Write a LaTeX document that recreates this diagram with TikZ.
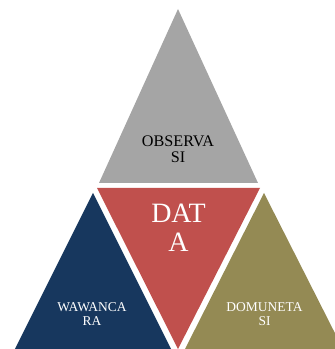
\documentclass[tikz,border=0pt]{standalone}
\usepackage{fontspec}
\setmainfont{Liberation Serif}
\definecolor{obsgray}{HTML}{A5A5A5}
\definecolor{datared}{HTML}{C0504D}
\definecolor{wawnavy}{HTML}{17375E}
\definecolor{dokolive}{HTML}{948A54}
\tikzset{
  smalllabel/.style={align=center, text=white, font=\fontsize{11.5}{11.3}\selectfont},
}
\begin{document}
\begin{tikzpicture}
                        \useasboundingbox (0,0) rectangle (10.050000,10.470000);
                        \clip (0,0) rectangle (10.050000,10.470000);

                        % Drawing triangle OBSERVASI (top)
                        \fill [obsgray] (5.340000,10.200000) -- (2.970000,4.980000) -- (7.740000,4.980000) -- cycle;%
                        \node (observasi) at (5.340000,6.000000) [align=center, font=\fontsize{13.8}{13.9}\selectfont] {OBSERVA\\SI};%

                        % Drawing triangle DATA (middle, upside down)
                        \fill [datared] (2.910000,4.830000) -- (7.800000,4.830000) -- (5.340000,0.000000) -- cycle;%
                        \node (data) at (5.355000,3.630000) [align=center, text=white, font=\fontsize{23.9}{24.7}\selectfont] {DAT\\A};%

                        % Drawing triangle WAWANCARA (left)
                        \fill [wawnavy] (2.790000,4.680000) -- (0.450000,0.000000) -- (5.130000,0.000000) -- cycle;%
                        \node (wawancara) at (2.760000,1.050000) [smalllabel] {WAWANCA\\RA};%

                        % Drawing triangle DOMUNETASI (right)
                        \fill [dokolive] (7.920000,4.680000) -- (5.550000,0.000000) -- (10.290000,0.000000) -- cycle;%
                        \node (domunetasi) at (7.935000,1.050000) [smalllabel] {DOMUNETA\\SI};%
\end{tikzpicture}
\end{document}
